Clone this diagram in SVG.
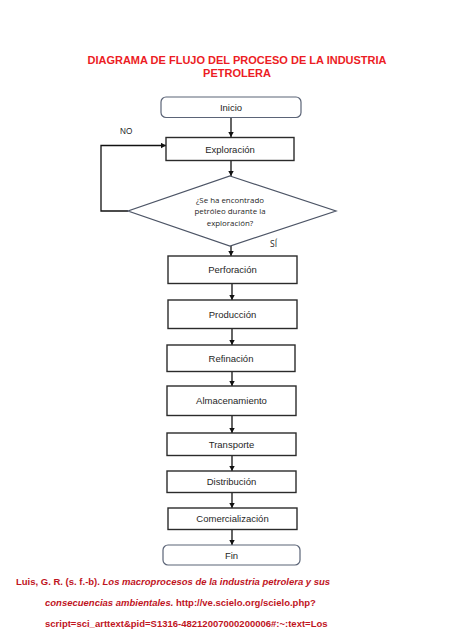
<svg xmlns="http://www.w3.org/2000/svg" width="474" height="632" viewBox="0 0 474 632">
<defs>
<marker id="ah" markerUnits="userSpaceOnUse" markerWidth="6" markerHeight="6" refX="5" refY="3" orient="auto">
<path d="M0,0.3 L5,3 L0,5.7 Z" fill="#111"/>
</marker>
<style>
.title{font-family:"Liberation Sans",Arial,sans-serif;font-weight:bold;font-size:11px;fill:#ec1c24;text-anchor:middle}
.box{fill:#fff;stroke:#2b2b2b;stroke-width:1.4}
.term{fill:#fff;stroke:#5b6477;stroke-width:1.2}
.lbl{font-family:"Liberation Sans",Arial,sans-serif;font-size:9.5px;fill:#262626;text-anchor:middle}
.dtxt{font-family:"Open Sans","Liberation Sans",sans-serif;font-size:7.9px;fill:#262626;text-anchor:middle}
.edge{fill:none;stroke:#111;stroke-width:1.3}
.cite{font-family:"Liberation Sans",Arial,sans-serif;font-weight:bold;font-size:9.5px;fill:#c0141e}
</style>
</defs>
<rect width="474" height="632" fill="#fff"/>
<text class="title" x="237" y="64">DIAGRAMA DE FLUJO DEL PROCESO DE LA INDUSTRIA</text>
<text class="title" x="237" y="76.5">PETROLERA</text>

<g id="connectors">
<line class="edge" x1="231" y1="117.5" x2="231" y2="137" marker-end="url(#ah)"/>
<line class="edge" x1="231" y1="160.5" x2="231" y2="176" marker-end="url(#ah)"/>
<line class="edge" x1="231" y1="246" x2="231" y2="256" marker-end="url(#ah)"/>
<line class="edge" x1="232" y1="283.5" x2="232" y2="300" marker-end="url(#ah)"/>
<line class="edge" x1="232" y1="328.5" x2="232" y2="345" marker-end="url(#ah)"/>
<line class="edge" x1="232" y1="371.5" x2="232" y2="386" marker-end="url(#ah)"/>
<line class="edge" x1="232" y1="415.5" x2="232" y2="433" marker-end="url(#ah)"/>
<line class="edge" x1="232" y1="455.5" x2="232" y2="471" marker-end="url(#ah)"/>
<line class="edge" x1="232" y1="492.5" x2="232" y2="508" marker-end="url(#ah)"/>
<line class="edge" x1="232" y1="529.5" x2="232" y2="545" marker-end="url(#ah)"/>
<polyline class="edge" points="128,211 101,211 101,145.5 166,145.5" marker-end="url(#ah)"/>
<text x="120" y="133.5" style="font-family:'Liberation Sans',Arial,sans-serif;font-size:8.2px;fill:#262626">NO</text>
<text x="270" y="246.5" style="font-family:'Open Sans','Liberation Sans',sans-serif;font-size:8.5px;fill:#262626">SÍ</text>
</g>

<g id="inicio">
<rect class="term" x="161" y="97" width="140" height="20.5" rx="5"/>
<text class="lbl" x="231" y="110.5">Inicio</text>
</g>
<g id="exploracion">
<rect class="box" x="166" y="137.5" width="128" height="23"/>
<text class="lbl" x="230" y="152.5">Exploración</text>
</g>
<g id="decision">
<polygon points="230,176 336,211 230,246 128,211" fill="#fff" stroke="#4d5566" stroke-width="1.2"/>
<text class="dtxt" x="230" y="202.5">¿Se ha encontrado</text>
<text class="dtxt" x="230" y="214">petróleo durante la</text>
<text class="dtxt" x="230" y="225.5">exploración?</text>
</g>
<g id="perforacion">
<rect class="box" x="168" y="256" width="129" height="27.5"/>
<text class="lbl" x="232.5" y="273">Perforación</text>
</g>
<g id="produccion">
<rect class="box" x="168" y="300" width="129" height="28.5"/>
<text class="lbl" x="232.5" y="317.5">Producción</text>
</g>
<g id="refinacion">
<rect class="box" x="167" y="345" width="128" height="26.5"/>
<text class="lbl" x="231" y="361.5">Refinación</text>
</g>
<g id="almacenamiento">
<rect class="box" x="167" y="386" width="129" height="29.5"/>
<text class="lbl" x="231.5" y="404">Almacenamiento</text>
</g>
<g id="transporte">
<rect class="box" x="167" y="433" width="129" height="22.5"/>
<text class="lbl" x="231.5" y="447.5">Transporte</text>
</g>
<g id="distribucion">
<rect class="box" x="167" y="471" width="129" height="21.5"/>
<text class="lbl" x="231.5" y="485">Distribución</text>
</g>
<g id="comercializacion">
<rect class="box" x="168" y="508" width="129" height="21.5"/>
<text class="lbl" x="232.5" y="522">Comercialización</text>
</g>
<g id="fin">
<rect class="term" x="163" y="545" width="137" height="20" rx="5"/>
<text class="lbl" x="231.5" y="558.5">Fin</text>
</g>

<text class="cite" x="16" y="584.5">Luis, G. R. (s. f.-b). <tspan font-style="italic">Los macroprocesos de la industria petrolera y sus</tspan></text>
<text class="cite" x="45" y="605.5"><tspan font-style="italic">consecuencias ambientales.</tspan> http://ve.scielo.org/scielo.php?</text>
<text class="cite" x="45" y="626.5">script=sci_arttext&amp;pid=S1316-48212007000200006#:~:text=Los</text>
</svg>
